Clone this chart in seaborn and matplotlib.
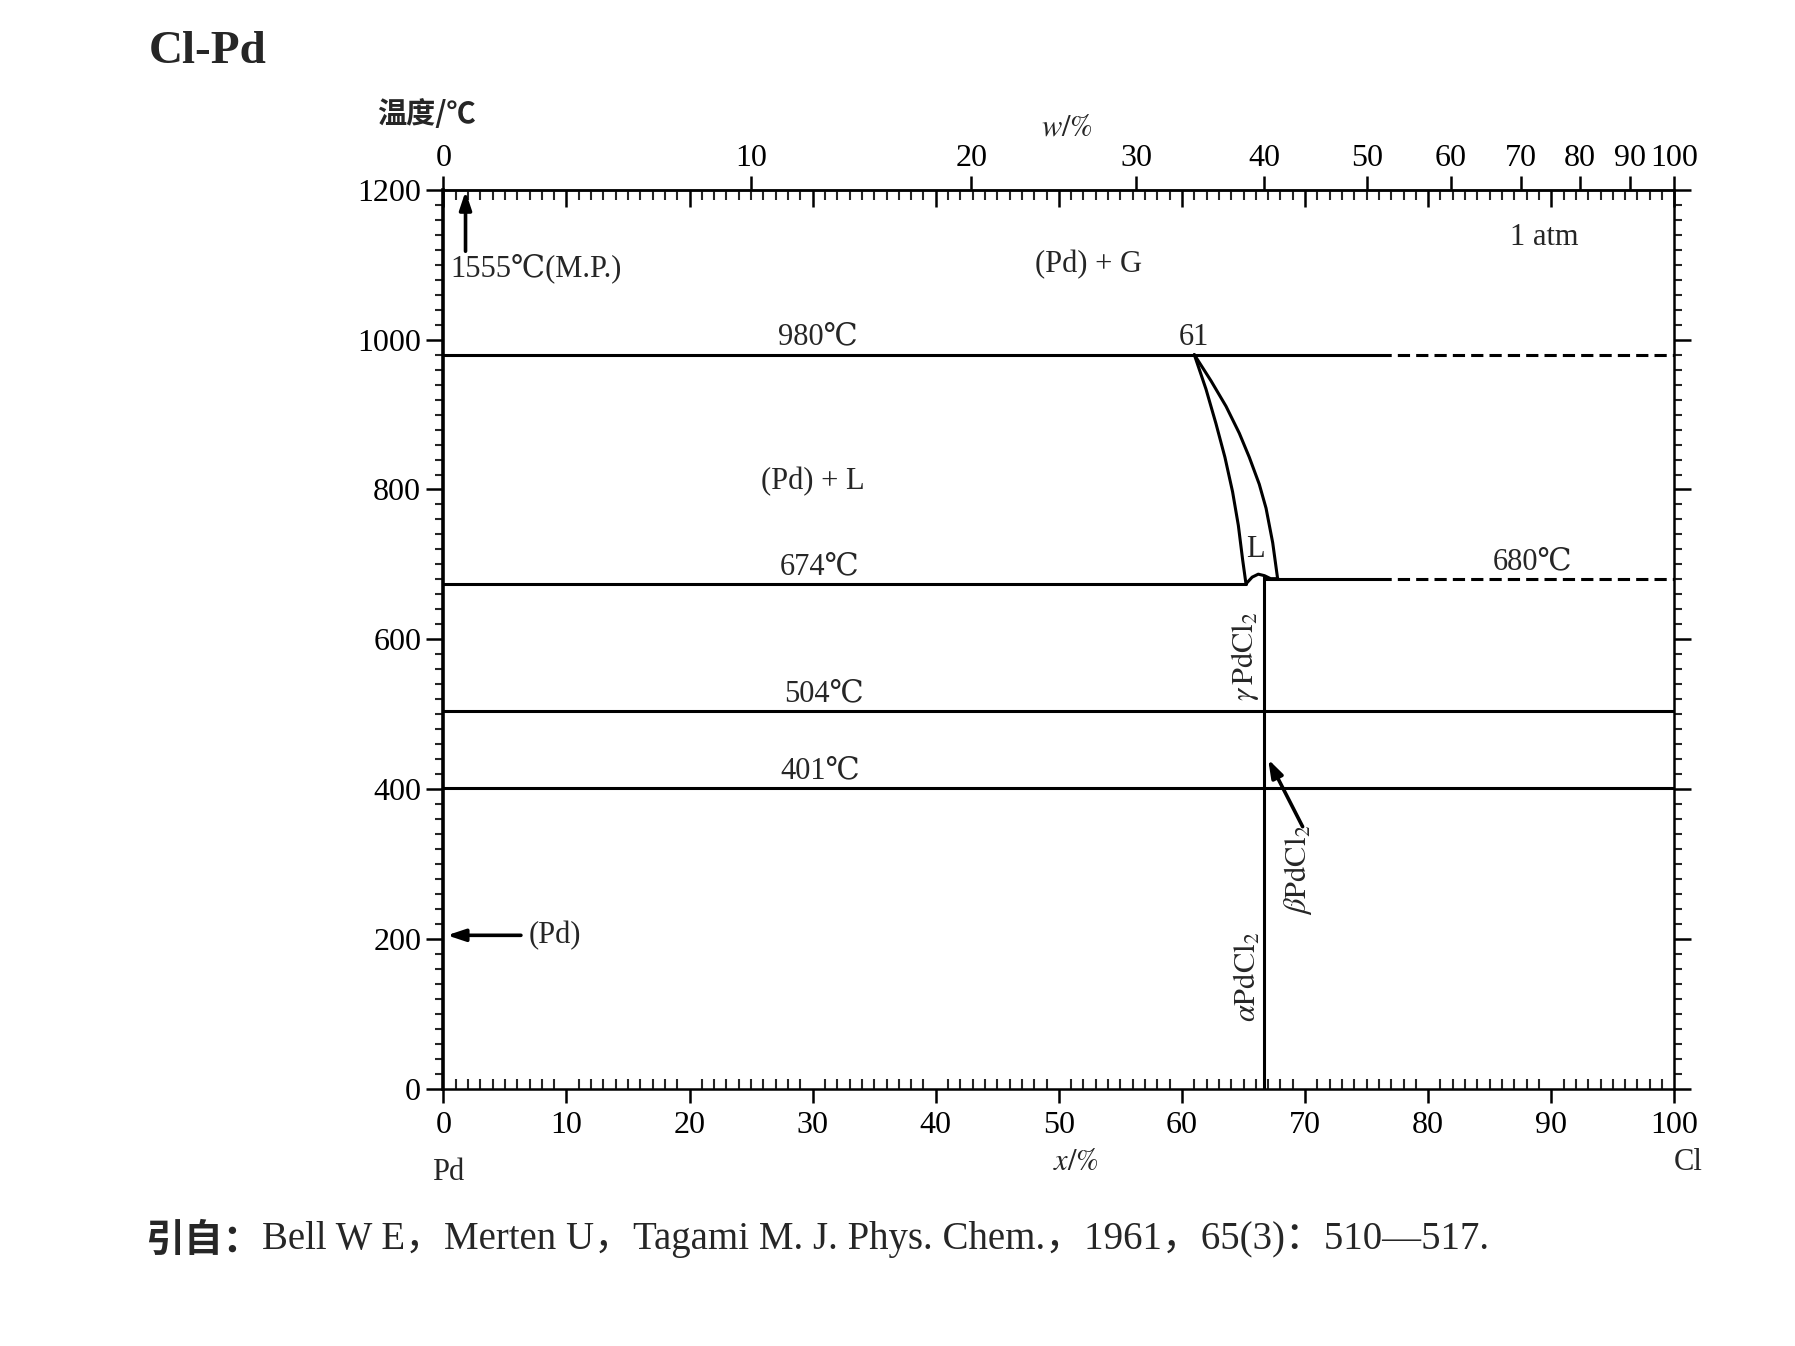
import numpy as np
import pandas as pd
import matplotlib
matplotlib.use("Agg")
import matplotlib.pyplot as plt
import seaborn as sns

# Cl-Pd 相图数据  (x/% Cl, 温度/℃)
M_CL = 35.45
M_PD = 106.42

liq_left_x = [61.0, 61.95, 62.76, 63.49, 64.11, 64.58, 64.93, 65.2]
liq_left_t = [980, 934, 888, 843, 797, 752, 706, 674]
liq_right_x = [61.0, 62.36, 63.58, 64.66, 65.47, 66.28, 66.83, 67.37, 67.77]
liq_right_t = [980, 945, 911, 875, 843, 807, 775, 729, 681]
arc_x = [65.2, 65.7, 66.2, 66.7, 67.2, 67.8]
arc_t = [674, 683, 687, 685, 681, 681]

# 水平线: 温度, 起点, 终点, 线型
iso_t = [980, 980, 674, 680, 680, 504, 401]
iso_x0 = [0, 76, 0, 66.7, 76, 0, 0]
iso_x1 = [76, 100, 65.2, 76, 100, 100, 100]
iso_kind = ['solid', 'dash', 'solid', 'solid', 'dash', 'solid', 'solid']

pdcl2_x = 66.7
pdcl2_top = 685

w_major = list(range(0, 101, 10))
x_major = list(range(0, 101, 10))
t_major = list(range(0, 1201, 200))


def x_to_w(x):
    x = np.asarray(x, dtype=float)
    with np.errstate(divide='ignore', invalid='ignore'):
        return 100 * x * M_CL / (x * M_CL + (100 - x) * M_PD)


def w_to_x(w):
    w = np.asarray(w, dtype=float)
    with np.errstate(divide='ignore', invalid='ignore'):
        a = w / M_CL
        return 100 * a / (a + (100 - w) / M_PD)


rows = []
for i in range(len(iso_t)):
    rows.append(dict(seg='iso%d' % i, x=iso_x0[i], t=iso_t[i], kind=iso_kind[i]))
    rows.append(dict(seg='iso%d' % i, x=iso_x1[i], t=iso_t[i], kind=iso_kind[i]))
rows.append(dict(seg='v', x=pdcl2_x, t=0, kind='solid'))
rows.append(dict(seg='v', x=pdcl2_x, t=pdcl2_top, kind='solid'))
for name, xs, ts in [('ll', liq_left_x, liq_left_t), ('lr', liq_right_x, liq_right_t), ('arc', arc_x, arc_t)]:
    for a, b in zip(xs, ts):
        rows.append(dict(seg=name, x=a, t=b, kind='solid'))
df = pd.DataFrame(rows)

sns.set_theme(style="white")
plt.rcParams['font.family'] = ['Liberation Serif', 'DejaVu Serif', 'Noto Sans CJK SC']
plt.rcParams['mathtext.fontset'] = 'stix'

fig = plt.figure(figsize=(17.95, 13.46), dpi=100)
ax = fig.add_axes([0.247, 0.191, 0.6858, 0.668])

sns.lineplot(data=df, x='x', y='t', units='seg', estimator=None, sort=False,
             style='kind', dashes={'solid': '', 'dash': (4, 2)},
             color='black', lw=2.2, legend=False, ax=ax)

ax.set_xlim(0, 100)
ax.set_ylim(0, 1200)
ax.set_xlabel('')
ax.set_ylabel('')

for s in ax.spines.values():
    s.set_color('black')
    s.set_linewidth(1.8)
ax.spines['left'].set_linewidth(2.6)

ax.set_yticks(t_major)
ax.set_yticks(list(range(0, 1201, 20)), minor=True)
ax.set_xticks(x_major)
ax.set_xticks(list(range(0, 101, 1)), minor=True)
ax.tick_params(axis='y', which='major', direction='out', length=12, width=1.8,
               left=True, right=True, labelsize=23, colors='black', pad=4)
ax.tick_params(axis='y', which='minor', direction='out', length=6, width=1.5,
               left=True, right=True)
ax.tick_params(axis='x', which='major', direction='out', length=10, width=1.8,
               bottom=True, labelsize=23, colors='black', pad=6)
ax.tick_params(axis='x', which='minor', direction='in', length=7, width=1.5,
               bottom=True, top=True)
ax.tick_params(axis='x', which='major', top=True, labeltop=False)
ax.xaxis.set_tick_params(which='major', top=True)

# top x% ticks point inward; w% ticks (labelled) point outward
for t in ax.xaxis.get_major_ticks():
    t.tick2line.set_marker(3)
    t.tick2line.set_markersize(12)

sec = ax.secondary_xaxis('top', functions=(x_to_w, w_to_x))
sec.set_xticks(w_major)
sec.tick_params(axis='x', which='major', direction='out', length=10, width=1.8,
                labelsize=23, colors='black', pad=2)
sec.tick_params(axis='x', which='minor', length=0)
sec.spines['top'].set_linewidth(1.8)

fs = 22
ax.text(0.6, 1095, '1555℃(M.P.)', fontsize=fs, ha='left', va='center')
ax.text(52.4, 1100, '(Pd) + G', fontsize=fs, ha='center', va='center')
ax.text(89.4, 1136, '1 atm', fontsize=fs, ha='center', va='center')
ax.text(30.4, 984, '980℃', fontsize=fs, ha='center', va='bottom')
ax.text(61.0, 984, '61', fontsize=fs, ha='center', va='bottom')
ax.text(30.0, 810, '(Pd) + L', fontsize=fs, ha='center', va='center')
ax.text(30.6, 678, '674℃', fontsize=fs, ha='center', va='bottom')
ax.text(66.0, 720, 'L', fontsize=fs, ha='center', va='center')
ax.text(88.5, 684, '680℃', fontsize=fs, ha='center', va='bottom')
ax.text(30.9, 508, '504℃', fontsize=fs, ha='center', va='bottom')
ax.text(30.6, 405, '401℃', fontsize=fs, ha='center', va='bottom')
ax.text(6.9, 205, '(Pd)', fontsize=fs, ha='left', va='center')
ax.text(65.1, 578, r'$\gamma\,\mathrm{PdCl}_2$', fontsize=fs, ha='center', va='center', rotation=90)
ax.text(65.3, 150, r'$\alpha\mathrm{PdCl}_2$', fontsize=fs, ha='center', va='center', rotation=90)
ax.text(69.4, 292, r'$\beta\mathrm{PdCl}_2$', fontsize=fs, ha='center', va='center', rotation=90)

arrow = dict(arrowstyle='-|>,head_length=0.9,head_width=0.3', color='black', lw=2.6,
             shrinkA=0, shrinkB=0)
ax.annotate('', xy=(1.8, 1198), xytext=(1.8, 1118), arrowprops=arrow)
ax.annotate('', xy=(0.3, 205), xytext=(6.3, 205), arrowprops=arrow)
ax.annotate('', xy=(67.0, 440), xytext=(69.8, 350), arrowprops=arrow)

fig.text(149 / 1795, 1 - 52 / 1346, 'Cl-Pd', fontsize=34, fontweight='bold', ha='left', va='center')
fig.text(426 / 1795, 1 - 114 / 1346, '温度/℃', fontsize=21, ha='center', va='center',
         fontweight='bold', family=['Noto Sans CJK SC', 'DejaVu Sans'])
fig.text(1067 / 1795, 1 - 128 / 1346, r'$w/\%$', fontsize=22, ha='center', va='center')
fig.text(1076 / 1795, 1 - 1162 / 1346, r'$x/\%$', fontsize=22, ha='center', va='center')
fig.text(448 / 1795, 1 - 1173 / 1346, 'Pd', fontsize=22, ha='center', va='center')
fig.text(1688 / 1795, 1 - 1163 / 1346, 'Cl', fontsize=22, ha='center', va='center')

src = fig.text(145 / 1795, 1 - 1240 / 1346, '引自：', fontsize=28, fontweight='bold',
               ha='left', va='center', family=['Noto Sans CJK SC', 'DejaVu Sans'])
ax.annotate('Bell W E，Merten U，Tagami M. J. Phys. Chem.，1961，65(3)：510—517.',
            xy=(1, 0.5), xycoords=src, ha='left', va='center', fontsize=28,
            annotation_clip=False)

fig.savefig('out.png', dpi=100, facecolor='white')
